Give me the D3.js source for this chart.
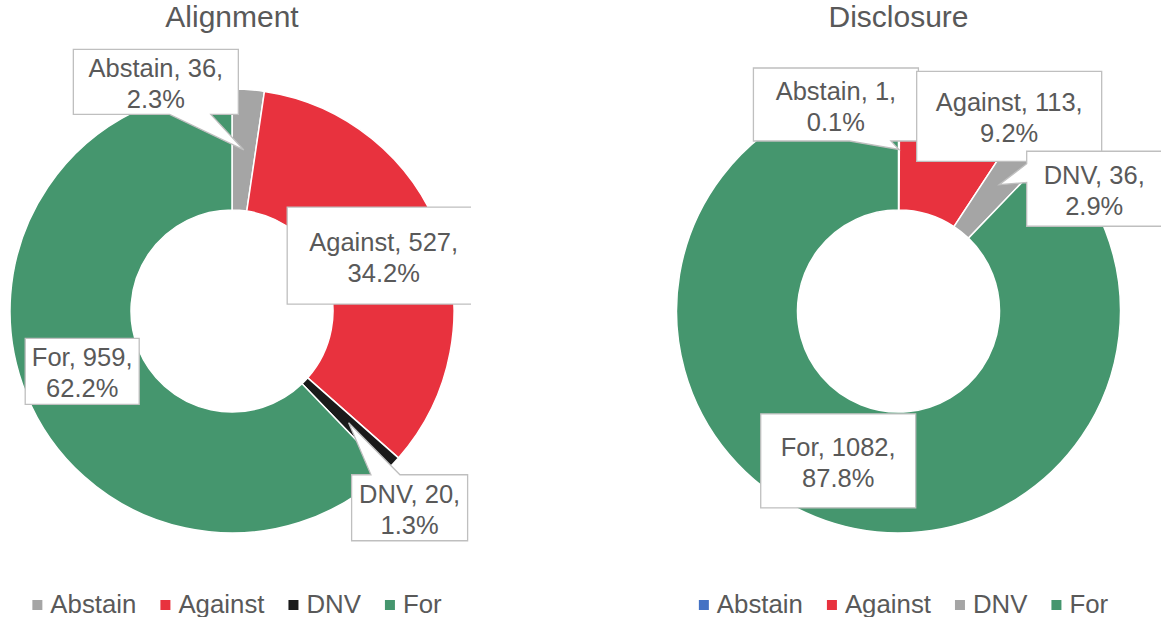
<!DOCTYPE html>
<html>
<head>
<meta charset="utf-8">
<script src="https://cdn.jsdelivr.net/npm/d3@7"></script>
<style>
  body { margin: 0; background: #fff; }
  text { font-family: "Liberation Sans", Arial, sans-serif; fill: #595959; }
</style>
</head>
<body>
<div id="chart"></div>
<script>
// chart data
const categories = ["Abstain", "Against", "DNV", "For"];
const alignmentVotes = [36, 527, 20, 959];
const disclosureVotes = [1, 113, 36, 1082];
const alignmentColors = ["#a5a5a5", "#e8323e", "#1a1a1a", "#45966e"];
const disclosureColors = ["#4472c4", "#e8323e", "#a5a5a5", "#45966e"];

// label box layout (offset from slice centroid, box size) - hand placed like the original
const alignmentLabels = [
  {dx: -88, dy: -68, w: 165, h: 65},
  {dx: 0, dy: 0, w: 193, h: 97},
  {dx: 61, dy: 85, w: 116, h: 66},
  {dx: 0, dy: 0, w: 114, h: 66}
];
const disclosureLabels = [
  {dx: -63, dy: -45, w: 165, h: 73},
  {dx: 64, dy: -40, w: 185, h: 90},
  {dx: 95, dy: 4, w: 135, h: 75},
  {dx: 0, dy: 0, w: 155, h: 94}
];

const W = 1164, H = 617;
const svg = d3.select("#chart").append("svg")
  .attr("width", W)
  .attr("height", H);

// wedge callout like Excel's wedgeRectCallout
function calloutPath(x0, y0, w, h, tx, ty) {
  let cx = x0 + w / 2, cy = y0 + h / 2;
  let dxPos = tx - cx, dyPos = ty - cy;
  let x1r = x0 + w, y1b = y0 + h;
  if (tx >= x0 && tx <= x1r && ty >= y0 && ty <= y1b) {
    return `M${x0},${y0}H${x1r}V${y1b}H${x0}Z`;
  }
  let xa = x0 + w * (dxPos > 0 ? 7 : 2) / 12, xb = x0 + w * (dxPos > 0 ? 10 : 5) / 12;
  let ya = y0 + h * (dyPos > 0 ? 7 : 2) / 12, yb = y0 + h * (dyPos > 0 ? 10 : 5) / 12;
  if (Math.abs(dxPos * h) > Math.abs(dyPos * w)) {
    if (dxPos > 0) return `M${x0},${y0}H${x1r}V${ya}L${tx},${ty}L${x1r},${yb}V${y1b}H${x0}Z`;
    return `M${x0},${y0}H${x1r}V${y1b}H${x0}V${yb}L${tx},${ty}L${x0},${ya}Z`;
  }
  if (dyPos < 0) return `M${x0},${y0}H${xa}L${tx},${ty}L${xb},${y0}H${x1r}V${y1b}H${x0}Z`;
  return `M${x0},${y0}H${x1r}V${y1b}H${xb}L${tx},${ty}L${xa},${y1b}H${x0}Z`;
}

class DonutChart {
  constructor(opts) {
    this.title = opts.title;
    this.values = opts.values;
    this.colors = opts.colors;
    this.labels = opts.labels;
    this.cx = opts.cx;
    this.cy = 311;
    this.outer = 222;
    this.inner = 101;
    this.clip = opts.clip;
    this.initVis();
  }

  initVis() {
    let vis = this;
    vis.g = svg.append("g");
    // chart area clip (labels that run past the chart edge get cut like in the original)
    let id = "clip-" + vis.title;
    svg.append("clipPath").attr("id", id)
      .append("rect").attr("x", vis.clip[0]).attr("y", 0)
      .attr("width", vis.clip[1] - vis.clip[0]).attr("height", H);
    vis.g.attr("clip-path", `url(#${id})`);

    vis.g.append("text")
      .attr("x", vis.cx)
      .attr("y", 27)
      .attr("text-anchor", "middle")
      .style("font-size", "30px")
      .text(vis.title);

    vis.pie = d3.pie().sort(null).value(d => d);
    vis.arc = d3.arc().innerRadius(vis.inner).outerRadius(vis.outer);
    vis.total = d3.sum(vis.values);
    vis.renderVis();
  }

  renderVis() {
    let vis = this;
    let arcs = vis.pie(vis.values);
    let pct = d3.format(".1%");

    let donut = vis.g.append("g")
      .attr("transform", `translate(${vis.cx},${vis.cy})`);

    donut.selectAll("path")
      .data(arcs)
      .enter()
      .append("path")
      .attr("d", vis.arc)
      .attr("fill", (d, i) => vis.colors[i])
      .attr("stroke", "#fff")
      .attr("stroke-width", 1.5);

    // data labels in callout boxes
    arcs.forEach((d, i) => {
      let c = vis.arc.centroid(d);
      let tx = vis.cx + c[0], ty = vis.cy + c[1];
      let L = vis.labels[i];
      let bx = tx + L.dx - L.w / 2, by = ty + L.dy - L.h / 2;
      let lg = vis.g.append("g");
      lg.append("path")
        .attr("d", calloutPath(bx, by, L.w, L.h, tx, ty))
        .attr("fill", "#fff")
        .attr("stroke", "#bfbfbf")
        .attr("stroke-width", 1.3);
      let mx = bx + L.w / 2, my = by + L.h / 2;
      lg.append("text")
        .attr("x", mx).attr("y", my - 5)
        .attr("text-anchor", "middle")
        .style("font-size", "25.5px")
        .text(`${categories[i]}, ${d.data},`);
      lg.append("text")
        .attr("x", mx).attr("y", my + 26)
        .attr("text-anchor", "middle")
        .style("font-size", "25.5px")
        .text(pct(d.data / vis.total));
    });

    // legend
    let leg = vis.g.append("g");
    let x = 0;
    categories.forEach((cat, i) => {
      leg.append("rect")
        .attr("x", x).attr("y", 600)
        .attr("width", 10).attr("height", 10)
        .attr("fill", vis.colors[i]);
      let t = leg.append("text")
        .attr("x", x + 18).attr("y", 613)
        .style("font-size", "25.8px")
        .text(cat);
      x += 18 + t.node().getComputedTextLength() + 24;
    });
    let legW = x - 24;
    leg.attr("transform", `translate(${vis.cx + 5 - legW / 2},0)`);
  }
}

new DonutChart({title: "Alignment", values: alignmentVotes, colors: alignmentColors,
  labels: alignmentLabels, cx: 232, clip: [0, 471]});
new DonutChart({title: "Disclosure", values: disclosureVotes, colors: disclosureColors,
  labels: disclosureLabels, cx: 898.5, clip: [480, 1161]});
</script>
</body>
</html>
